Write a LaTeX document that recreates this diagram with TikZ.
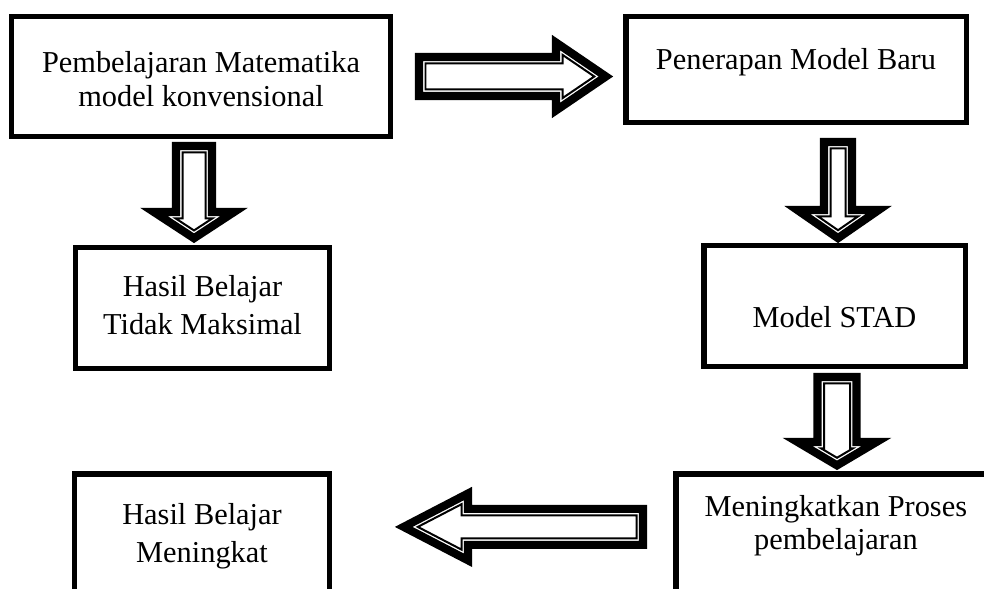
\documentclass[tikz,border=0pt]{standalone}
\usepackage{fontspec}
\setmainfont{Liberation Serif}
\usetikzlibrary{calc}

\def\px{0.025cm}

% block arrow, thick-thin outline: start, angle, length, shaft half, head half, head length
\newcommand{\fatarrow}[6]{%
  \begin{scope}[shift={#1}, rotate=#2]
    \foreach \ins/\lw in {4/5.8pt, 10.5/1.42pt} {
      \pgfmathsetmacro{\aN}{sqrt((#5)^2+(#6)^2)}
      \pgfmathsetmacro{\aH}{max(#5-\ins*(#5+\aN)/#6, #4-\ins)}
      \pgfmathsetmacro{\aT}{#3-\ins*\aN/#5}
      \pgfmathsetmacro{\aB}{#3-#6+\ins}
      \draw[line width=\lw, line join=miter]
        (\ins,#4-\ins) -- (\aB,#4-\ins) -- (\aB,\aH) -- (\aT,0)
        -- (\aB,-\aH) -- (\aB,-#4+\ins) -- (\ins,-#4+\ins) -- cycle;
    }
  \end{scope}}

\begin{document}
\begin{tikzpicture}[
    x=\px, y=\px,
    box/.style={
        rectangle, draw, line width=3.9pt, inner sep=0pt,
        align=center, font=\fontsize{21.6pt}{23.8pt}\selectfont
    }
]
\useasboundingbox (0,0) rectangle (984,-589);
\fill[white] (0,0) rectangle (984,-589);
\clip (0,0) rectangle (984,-589);

% --- Boxes
\node[box, minimum width=378.5*\px, minimum height=119.5*\px,
      text height=45.3pt, text depth=3.1pt] (pem) at (201,-76.5)
    {Pembelajaran Matematika\\model konvensional};
\node[box, minimum width=340.5*\px, minimum height=105.5*\px,
      text height=15pt, text depth=14.3pt] (baru) at (796,-69.5)
    {Penerapan Model Baru};
\node[box, minimum width=253.5*\px, minimum height=120.5*\px,
      text height=41.4pt, text depth=3.1pt] (hasil) at (202.5,-308)
    {Hasil Belajar\\[3.5pt]Tidak Maksimal};
\node[box, minimum width=261.5*\px, minimum height=120.5*\px,
      text height=33.8pt, text depth=3.1pt] (stad) at (834.5,-306)
    {Model STAD};
\node[box, minimum width=320.25*\px, minimum height=146.25*\px,
      text height=22.8pt, text depth=18.4pt] (proses) at (835.9,-546.9)
    {Meningkatkan Proses\\pembelajaran};
\node[box, minimum width=254.5*\px, minimum height=146.25*\px,
      text height=25.8pt, text depth=3pt] (naik) at (202,-546.9)
    {Hasil Belajar\\[3.5pt]Meningkat};

% --- Block arrows
\fatarrow{($(pem.east)+(22,0)$)}{0}{198}{23.5}{41.5}{61}
\fatarrow{($(pem.south)+(-7,-3)$)}{-90}{101}{22}{53.5}{35}
\fatarrow{($(baru.south)+(42,-13)$)}{-90}{105}{18}{53.5}{37}
\fatarrow{($(stad.south)+(2.5,-4)$)}{-90}{97}{23.5}{54}{32}
\fatarrow{($(proses.west)+(-26,20)$)}{180}{252}{22}{40}{77}
\end{tikzpicture}
\end{document}
